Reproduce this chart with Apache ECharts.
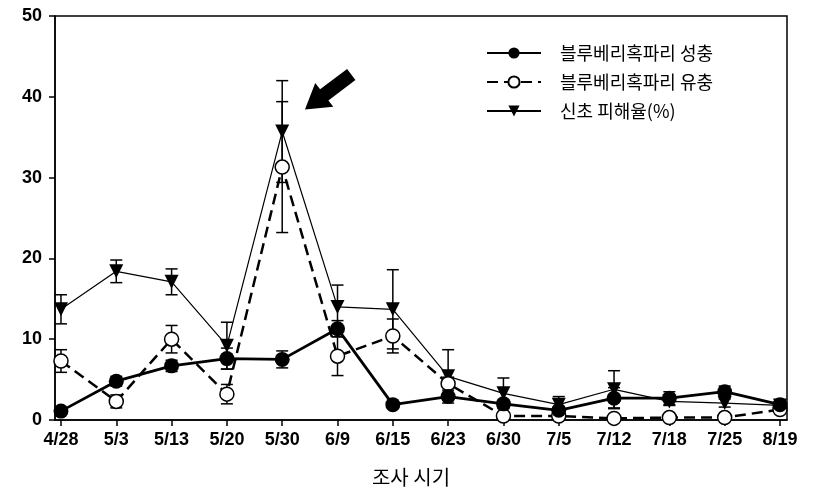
<!DOCTYPE html>
<html>
<head>
<meta charset="utf-8">
<script src="https://cdn.jsdelivr.net/npm/echarts@6/dist/echarts.min.js"></script>
<style>
  html, body { margin: 0; padding: 0; background: #fff; }
  #main { width: 813px; height: 494px; }
</style>
</head>
<body>
<div id="main"></div>
<script>
// 조사 시기
var dates = ['4/28', '5/3', '5/13', '5/20', '5/30', '6/9', '6/15', '6/23', '6/30', '7/5', '7/12', '7/18', '7/25', '8/19'];
// 블루베리혹파리 성충
var adult = [1.1, 4.8, 6.7, 7.6, 7.5, 11.3, 1.9, 2.9, 2.0, 1.2, 2.7, 2.7, 3.5, 1.9];
var adultErr = [0.3, 0.6, 0.7, 1.3, 1.05, 1.0, 0.3, 0.4, 0.5, 0.4, 1.3, 0.8, 0.7, 0.3];
// 블루베리혹파리 유충
var larva = [7.3, 2.3, 10.0, 3.2, 31.3, 7.9, 10.4, 4.5, 0.5, 0.5, 0.2, 0.3, 0.3, 1.3];
var larvaErr = [1.4, 0.8, 1.7, 1.2, 8.1, 2.4, 2.1, 0.8, 0.3, 0.3, 0.2, 0.2, 0.2, 0.3];
// 신초 피해율(%)
var damage = [13.7, 18.4, 17.1, 9.2, 35.7, 14.0, 13.7, 5.4, 3.3, 1.9, 3.8, 2.3, 2.1, 1.8];
var damageErr = [1.8, 1.4, 1.6, 2.9, 6.3, 2.7, 4.9, 3.3, 1.9, 1.0, 2.3, 0.5, 0.5, 0.3];
var yTicks = [0, 10, 20, 30, 40, 50];

var chart = echarts.init(document.getElementById('main'));

function pts(vals) {
  return vals.map(function (v, i) { return [i, v]; });
}
function errPts(vals, errs) {
  return vals.map(function (v, i) { return [i, v, errs[i]]; });
}

// 오차막대
function errBar(vals, errs, w) {
  return {
    type: 'custom',
    silent: true,
    z: 1,
    data: errPts(vals, errs),
    renderItem: function (params, api) {
      var x = api.value(0), y = api.value(1), e = api.value(2);
      var top = api.coord([x, y + e]);
      var bot = api.coord([x, Math.max(0, y - e)]);
      var st = { stroke: '#000', lineWidth: w };
      return {
        type: 'group',
        children: [
          { type: 'line', shape: { x1: top[0], y1: top[1], x2: bot[0], y2: bot[1] }, style: st },
          { type: 'line', shape: { x1: top[0] - 6, y1: top[1], x2: top[0] + 6, y2: top[1] }, style: st },
          { type: 'line', shape: { x1: bot[0] - 6, y1: bot[1], x2: bot[0] + 6, y2: bot[1] }, style: st }
        ]
      };
    }
  };
}

var arrowPath = 'path://M0,0 L13,15 L6,15 L6,36 L-6,36 L-6,15 L-13,15 Z';

var option = {
  animation: false,
  textStyle: { fontFamily: 'Liberation Sans, Arial, sans-serif' },
  grid: {
    left: 55, right: 26, top: 16, bottom: 74,
    show: true, borderColor: '#000', borderWidth: 1.5, backgroundColor: 'transparent'
  },
  legend: {
    orient: 'vertical',
    left: 486, top: 44,
    padding: 0,
    itemWidth: 54, itemHeight: 14, itemGap: 11,
    textStyle: { fontSize: 18, color: '#000', fontFamily: 'Noto Sans CJK KR', padding: [0, 0, 0, 14] },
    data: ['블루베리혹파리 성충', '블루베리혹파리 유충', '신초 피해율(%)']
  },
  xAxis: {
    type: 'value',
    min: -0.108, max: 13.127,
    name: '조사 시기',
    nameLocation: 'middle',
    nameGap: 47,
    nameTextStyle: { fontSize: 20, color: '#000', fontFamily: 'Noto Sans CJK KR', padding: [0, 20, 0, 0] },
    axisLine: { show: true, lineStyle: { color: '#000', width: 1.5 } },
    axisTick: { show: true, length: 6, lineStyle: { color: '#000', width: 1.5 }, customValues: dates.map(function (d, i) { return i; }) },
    axisLabel: {
      customValues: dates.map(function (d, i) { return i; }),
      formatter: function (v) { return dates[Math.round(v)]; },
      color: '#000', fontSize: 18, fontWeight: 'bold', margin: 11,
      fontFamily: 'Liberation Sans Narrow, Arial Narrow, Liberation Sans, sans-serif'
    },
    splitLine: { show: false }
  },
  yAxis: {
    type: 'value',
    min: 0, max: 50, interval: 10,
    axisLine: { show: true, onZero: false, lineStyle: { color: '#000', width: 1.5 } },
    axisTick: { show: true, length: 6, lineStyle: { color: '#000', width: 1.5 } },
    axisLabel: {
      color: '#000', fontSize: 18, fontWeight: 'bold', margin: 13,
      formatter: function (v) { return yTicks.indexOf(v) >= 0 ? String(v) : ''; }
    },
    splitLine: { show: false }
  },
  series: [
    errBar(damage, damageErr, 1.5),
    errBar(larva, larvaErr, 1.5),
    errBar(adult, adultErr, 1.5),
    {
      name: '신초 피해율(%)',
      type: 'line',
      z: 3,
      data: pts(damage),
      symbol: 'triangle', symbolRotate: 180, symbolSize: 14,
      lineStyle: { color: '#000', width: 1.2 },
      itemStyle: { color: '#000', borderColor: '#000', borderWidth: 0 },
      markPoint: {
        silent: true,
        symbol: arrowPath,
        symbolSize: [30, 58],
        symbolRotate: 127,
        itemStyle: { color: '#000' },
        label: { show: false },
        data: [{ coord: [4.83, 40.6] }]
      }
    },
    {
      name: '블루베리혹파리 유충',
      type: 'line',
      z: 4,
      data: pts(larva),
      symbol: 'circle', symbolSize: 14,
      lineStyle: { color: '#000', width: 2.5, type: [11, 6] },
      itemStyle: { color: '#fff', borderColor: '#000', borderWidth: 1.5 }
    },
    {
      name: '블루베리혹파리 성충',
      type: 'line',
      z: 5,
      data: pts(adult),
      symbol: 'circle', symbolSize: 15,
      lineStyle: { color: '#000', width: 2.8 },
      itemStyle: { color: '#000', borderColor: '#000', borderWidth: 0 }
    }
  ]
};

chart.setOption(option);
</script>
</body>
</html>
